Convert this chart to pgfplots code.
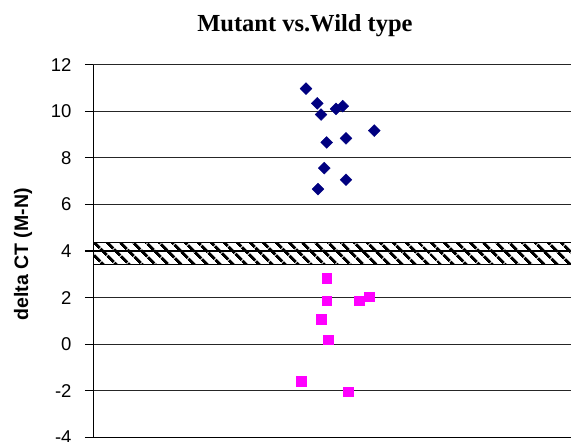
\documentclass[border=0pt]{standalone}
\usepackage{fontspec}
\setmainfont{Liberation Sans}
\newfontfamily\titlefont{Liberation Serif}
\usepackage{pgfplots}
\pgfplotsset{compat=1.18}
\usetikzlibrary{patterns.meta}
\definecolor{mutblue}{HTML}{000080}
\definecolor{wtpink}{HTML}{FF00FF}

\begin{document}
\begin{tikzpicture}
\path[use as bounding box] (0,0) rectangle (571bp,442bp);
\begin{axis}[
    at={(93.3bp,4.7bp)}, anchor=south west,
    scale only axis,
    width=477.7bp, height=372.6bp,
    xmin=0, xmax=477.7,
    ymin=-4, ymax=12,
    xtick=\empty,
    ytick={-4,-2,0,2,4,6,8,10,12},
    yticklabels={-4,-2,0,2,4,6,8,10,12},
    axis x line*=bottom, axis y line*=left,
    axis line style={black, line width=1.2bp},
    tick align=outside,
    major tick length=8.3bp,
    tick style={black, line width=1.2bp},
    ymajorgrids,
    grid style={black!85, line width=1.1bp},
    tick label style={font=\fontsize{18.5bp}{20bp}\selectfont},
    yticklabel style={xshift=-10bp},
    title={Mutant vs.Wild type},
    title style={at={(axis description cs:0.443,1)}, anchor=base, yshift=27bp,
        font=\titlefont\bfseries\fontsize{24.5bp}{26bp}\selectfont},
    ylabel={delta CT (M-N)},
    ylabel style={at={(axis description cs:-0.147,0.491)}, anchor=center,
        font=\bfseries\fontsize{19.5bp}{21bp}\selectfont},
]
% hatched band
\addplot[draw=none, pattern={Lines[angle=-45, distance=10bp, line width=3.5bp]}]
    coordinates {(0,3.42) (477.7,3.42) (477.7,4.35) (0,4.35)} -- cycle;
\addplot[black, line width=1.1bp] coordinates {(0,4.35) (477.7,4.35)};
\addplot[black, line width=1.1bp] coordinates {(0,3.42) (477.7,3.42)};
\addplot[black, line width=1.1bp] coordinates {(0,4) (477.7,4)};
% wild type
\addplot[only marks, mark=square*, mark size=4.8bp, color=wtpink] coordinates {
    (233.4,2.82) (233.4,1.87) (266.0,1.87) (276.0,2.04)
    (228.0,1.08) (234.7,0.19) (208.0,-1.59) (254.7,-2.04)
};
% mutant
\addplot[only marks, mark=square*, mark size=4.2bp, mark options={rotate=45}, color=mutblue] coordinates {
    (212.7,10.97) (224.0,10.34) (227.7,9.86) (242.7,10.10) (249.4,10.22)
    (233.4,8.66) (252.7,8.84) (281.0,9.17) (231.0,7.56) (252.7,7.06) (224.7,6.66)
};
\end{axis}
\end{tikzpicture}
\end{document}
